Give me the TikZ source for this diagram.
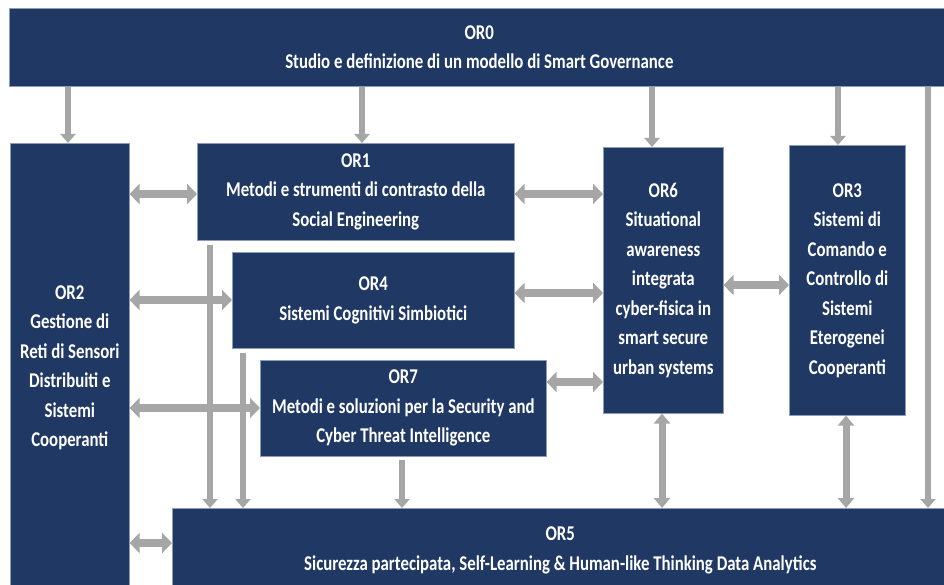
\documentclass[tikz,border=0pt]{standalone}
\usepackage{fontspec}
\newfontfamily\boxfont{Carlito}[FakeStretch=0.8]
\usetikzlibrary{arrows.meta}
\definecolor{navy}{RGB}{32,56,100}
\definecolor{arrgray}{RGB}{166,166,166}
\definecolor{boxedge}{RGB}{140,155,185}
\begin{document}
\begin{tikzpicture}[x=1pt,y=-1pt,
  box/.style={fill=navy, draw=boxedge, line width=0.6pt, text=white,
    font=\boxfont\bfseries\fontsize{21}{29.5}\selectfont, align=center,
    inner sep=0pt, anchor=north west},
  down/.style={draw=arrgray, line width=6pt, -{Triangle[width=15pt,length=9pt]}},
  dbl/.style={draw=arrgray, line width=8pt,
    {Triangle[width=20pt,length=10pt]}-{Triangle[width=20pt,length=10pt]}},
  vdbl/.style={draw=arrgray, line width=7pt,
    {Triangle[width=16pt,length=10pt]}-{Triangle[width=16pt,length=10pt]}}]
\useasboundingbox (0,0) rectangle (944,585);
\fill[white] (0,0) rectangle (944,585);

\node[box, minimum width=940pt, minimum height=78pt] (or0) at (9,8)
  {OR0\\Studio e definizione di un modello di Smart Governance};
\node[box, minimum width=119pt, minimum height=449pt] (or2) at (10,143)
  {OR2\\Gestione di\\Reti di Sensori\\Distribuiti e\\Sistemi\\Cooperanti};
\node[box, minimum width=317pt, minimum height=97pt] (or1) at (197,143)
  {OR1\\Metodi e strumenti di contrasto della\\Social Engineering};
\node[box, minimum width=282pt, minimum height=96pt] (or4) at (232,252)
  {OR4\\Sistemi Cognitivi Simbiotici};
\node[box, minimum width=286pt, minimum height=96pt] (or7) at (260,360)
  {OR7\\Metodi e soluzioni per la Security and\\Cyber Threat Intelligence};
\node[box, minimum width=120pt, minimum height=266pt] (or6) at (603,147)
  {OR6\\Situational\\awareness\\integrata\\cyber-fisica in\\smart secure\\urban systems};
\node[box, minimum width=116pt, minimum height=270pt] (or3) at (789,145)
  {OR3\\Sistemi di\\Comando e\\Controllo di\\Sistemi\\Eterogenei\\Cooperanti};
\node[box, minimum width=776pt, minimum height=84pt] (or5) at (172,508)
  {OR5\\Sicurezza partecipata, Self-Learning \& Human-like Thinking Data Analytics};

% arrows from OR0
\draw[down] (68,0 |- or0.south) -- (68,0 |- or2.north);
\draw[down] (362,0 |- or0.south) -- (362,0 |- or1.north);
\draw[down] (652,0 |- or0.south) -- (652,0 |- or6.north);
\draw[down] (838,0 |- or0.south) -- (838,0 |- or3.north);
\draw[down] (928,0 |- or0.south) -- (928,0 |- or5.north);

% horizontal double arrows
\draw[dbl] (or2.east |- 0,194) -- (or1.west |- 0,194);
\draw[dbl] (or2.east |- 0,300) -- (or4.west |- 0,300);
\draw[dbl] (or2.east |- 0,408) -- (or7.west |- 0,408);
\draw[dbl] (or2.east |- 0,543) -- (or5.west |- 0,543);
\draw[dbl] (or1.east |- 0,194) -- (or6.west |- 0,194);
\draw[dbl] (or4.east |- 0,293) -- (or6.west |- 0,293);
\draw[dbl] (or7.east |- 0,382) -- (or6.west |- 0,382);
\draw[dbl] (or6.east |- 0,285) -- (or3.west |- 0,285);

% down arrows into OR5
\draw[down] (210,0 |- or1.south) ++(0,4) -- (210,0 |- or5.north);
\draw[down] (243,0 |- or4.south) ++(0,4) -- (243,0 |- or5.north);
\draw[down] (402,0 |- or7.south) ++(0,3) -- (402,0 |- or5.north);

% vertical double arrows
\draw[vdbl] (662,0 |- or6.south) -- (662,0 |- or5.north);
\draw[vdbl] (846,0 |- or3.south) -- (846,0 |- or5.north);
\end{tikzpicture}
\end{document}
